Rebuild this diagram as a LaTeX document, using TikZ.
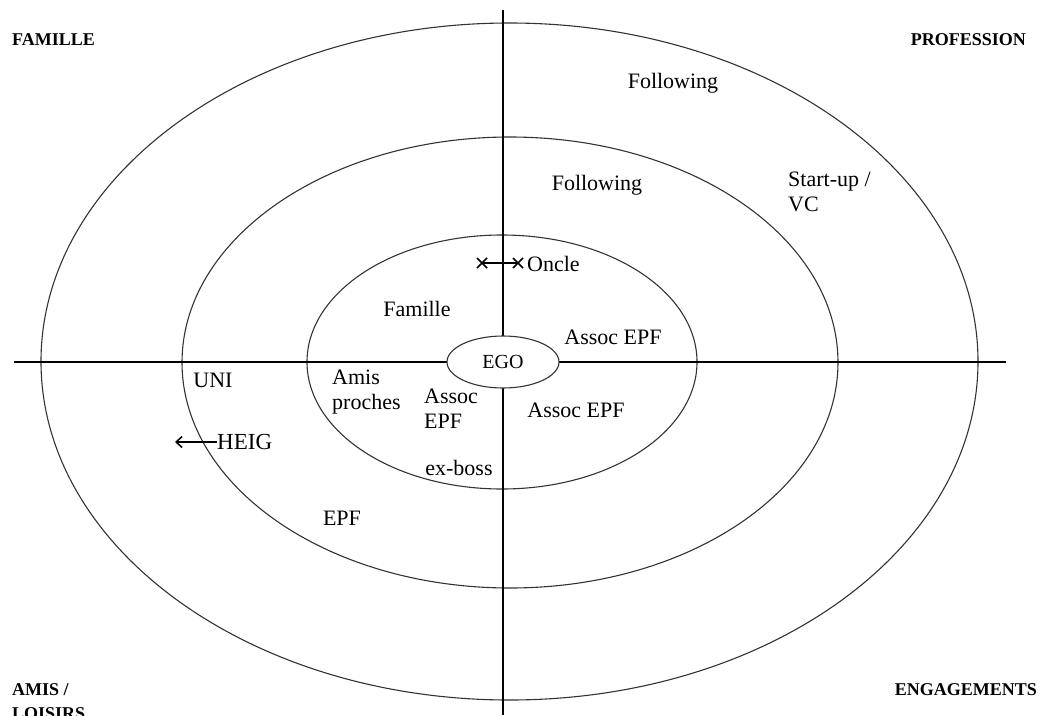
\documentclass[tikz,border=0pt]{standalone}
\usepackage{fontspec}
\setmainfont{Liberation Serif}
\usetikzlibrary{arrows.meta,shapes.geometric,calc}
\begin{document}
\begin{tikzpicture}[x=1pt,y=-1pt,
  ring/.style={draw=black!80, line width=1.1pt},
  axis/.style={draw=black, line width=1.9pt},
  lbl/.style={inner sep=0pt, font=\fontsize{22}{25}\selectfont},
  corner/.style={inner sep=0pt, font=\fontsize{18}{22}\selectfont\bfseries, align=left},
  crossmark/.style={line width=1.5pt}]
\useasboundingbox (0,0) rectangle (1041,715);
\begin{scope}
\clip (0,0) rectangle (1041,715);
% rings
\draw[ring] (509.5,361.5) ellipse [x radius=468.5, y radius=338.5];
\draw[ring] (510,362.5) ellipse [x radius=328, y radius=225.5];
\draw[ring] (502,362) ellipse [x radius=195, y radius=127];
% axes
\coordinate (vtop) at (503,10);
\coordinate (vbot) at (503,715);
\coordinate (hl) at (14,362);
\coordinate (hr) at (1006,362);
\draw[axis] (vtop) -- (vbot);
\draw[axis] (hl) -- (hr);
% EGO
\node[ellipse, draw=black!80, line width=1.1pt, fill=white, minimum width=112pt, minimum height=52pt, inner sep=0pt, font=\fontsize{20}{22}\selectfont] (ego) at (503,362) {EGO};
% corner labels
\node[corner, anchor=west] (famille) at (12,40) {FAMILLE};
\node[corner, anchor=east] (profession) at (1026,40) {PROFESSION};
\node[corner, anchor=east] (engagements) at (1037,690) {ENGAGEMENTS};
\node[corner, anchor=north west, text depth=0pt] (amis) at (12,683) {AMIS /\\[2pt]LOISIRS};
% labels
\node[lbl] (fol1) at (673,83) {Following};
\node[lbl] (fol2) at (597,185) {Following};
\node[lbl, anchor=west, align=left] (startup) at (788,192) {Start-up /\\VC};
\node[lbl, anchor=west] (oncle) at (527,264) {Oncle};
\node[lbl] (fam) at (417,309) {Famille};
\node[lbl] (assoc1) at (613,337) {Assoc EPF};
\node[lbl] (uni) at (213,380) {UNI};
\node[lbl, anchor=west, align=left] (amisp) at (332,392) {Amis\\proches};
\node[lbl, anchor=west, align=left] (assoc2) at (424,409) {Assoc\\EPF};
\node[lbl] (assoc3) at (576,410) {Assoc EPF};
\node[lbl] (exboss) at (459,468) {ex-boss};
\node[lbl, anchor=west, font=\fontsize{23}{26}\selectfont] (heig) at (217,442) {HEIG};
\node[lbl] (epf) at (342,518) {EPF};
% HEIG arrow
\coordinate (heigend) at (175,442);
\draw[line width=1.5pt, -{Straight Barb[length=6pt,width=11pt]}] (heig.west) -- (heigend);
% Oncle double-cross line
\coordinate (xa) at (482,263);
\coordinate (xb) at (518,263);
\draw[crossmark] (xa) -- (xb);
\draw[crossmark] ($(xa)+(-5,-5)$) -- ($(xa)+(5,5)$);
\draw[crossmark] ($(xa)+(-5,5)$) -- ($(xa)+(5,-5)$);
\draw[crossmark] ($(xb)+(-5,-5)$) -- ($(xb)+(5,5)$);
\draw[crossmark] ($(xb)+(-5,5)$) -- ($(xb)+(5,-5)$);
\end{scope}
\end{tikzpicture}
\end{document}
